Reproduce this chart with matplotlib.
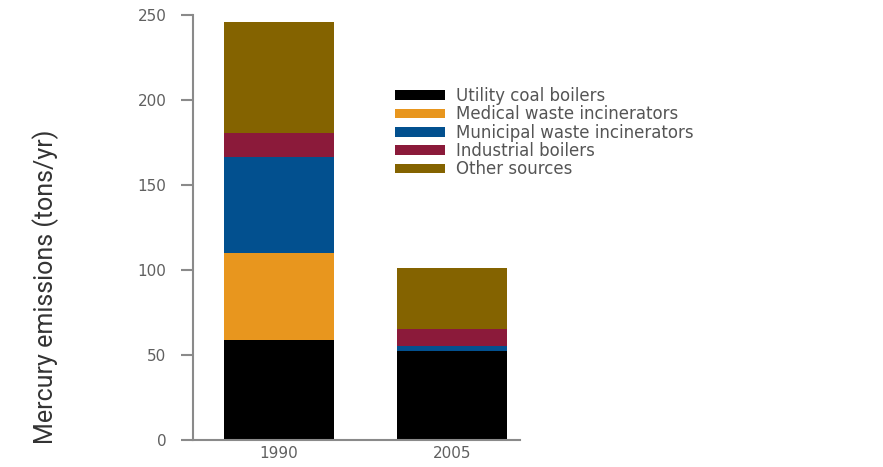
import numpy as np
import matplotlib
matplotlib.use('Agg')
import matplotlib.pyplot as plt

# Data
years = ['1990', '2005']
sources = ['Utility coal boilers', 'Medical waste incinerators',
           'Municipal waste incinerators', 'Industrial boilers', 'Other sources']
utility_coal = [58.8, 52.4]
medical_waste = [51.0, 0.0]
municipal_waste = [56.5, 2.9]
industrial = [14.5, 9.8]
other = [64.9, 36.3]
colors = ['#000000', '#E8961E', '#02508F', '#8B1A3A', '#846300']


def plot_data():
    fig = plt.figure(figsize=(8.83, 4.67), dpi=100)
    ax = fig.add_axes([0.2185, 0.0578, 0.3705, 0.9102])

    series = [utility_coal, medical_waste, municipal_waste, industrial, other]
    x = np.arange(len(years))
    bottom = np.zeros(len(years))
    for vals, lab, col in zip(series, sources, colors):
        ax.bar(x, vals, width=0.64, bottom=bottom, color=col, label=lab)
        bottom += np.array(vals)

    ax.set_xlim(-0.498, 1.393)
    ax.set_ylim(0, 250)
    ax.set_yticks([0, 50, 100, 150, 200, 250])
    ax.set_xticks(x)
    ax.set_xticklabels(years)

    grey = '#8a8a8a'
    for s in ['top', 'right']:
        ax.spines[s].set_visible(False)
    for s in ['left', 'bottom']:
        ax.spines[s].set_color(grey)
        ax.spines[s].set_linewidth(1.5)
    ax.tick_params(axis='y', colors=grey, labelcolor='#606060', length=9, width=1.5,
                   labelsize=11, pad=10)
    ax.tick_params(axis='x', length=0, labelcolor='#606060', labelsize=11, pad=4)

    ax.set_ylabel('Mercury emissions (tons/yr)', fontsize=18, color='#333333',
                  family=['Roboto', 'DejaVu Sans'])
    ax.yaxis.set_label_coords(-0.41, 0.36)

    fig.legend(loc='upper left', bbox_to_anchor=(0.447, 0.8136), frameon=False,
               fontsize=12, handlelength=3.0, handleheight=0.5, handletextpad=0.7,
               labelspacing=0.02, labelcolor='#555555', borderaxespad=0,
               borderpad=0)

    fig.savefig('out.png', dpi=100)


if __name__ == '__main__':
    plot_data()
